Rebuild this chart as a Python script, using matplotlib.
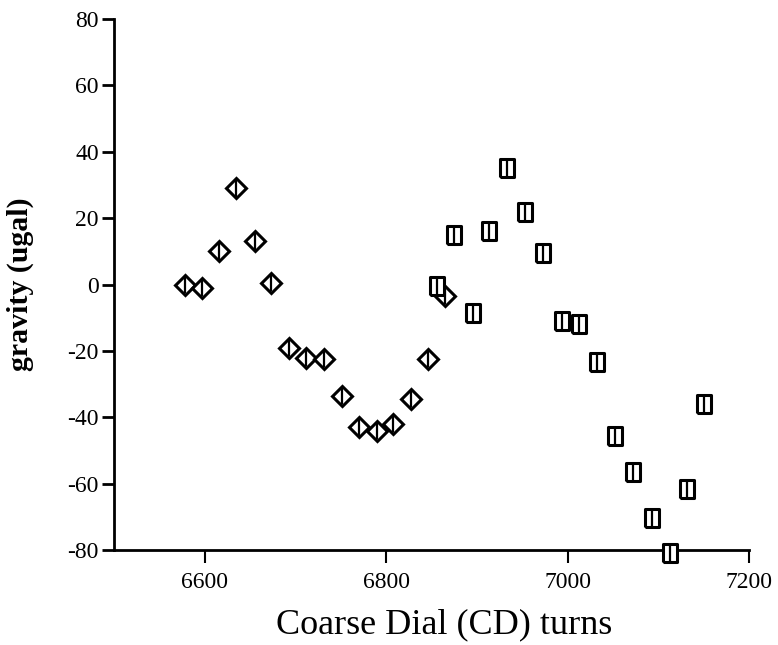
import numpy as np
from matplotlib import pyplot as plt

# first run (diamonds)
cd_a = [6578, 6597, 6616, 6635, 6655, 6673, 6693, 6712, 6731, 6751,
        6770, 6790, 6808, 6827, 6846, 6865]
g_a = [0, -1, 10, 29, 13, 0.5, -19, -22, -22.5, -33.5,
       -43, -44, -42, -34.5, -22.5, -3.5]
# second run (squares)
cd_b = [6856, 6875, 6896, 6913, 6933, 6953, 6973, 6994, 7013, 7033,
        7052, 7072, 7093, 7113, 7132, 7150]
g_b = [-0.5, 15, -8.5, 16, 35, 22, 9.5, -11, -12, -23.5,
       -45.5, -56.5, -70.5, -81, -61.5, -36]
err = 2.5

plt.rcParams['font.family'] = ['Liberation Serif', 'DejaVu Serif']
plt.rcParams['axes.unicode_minus'] = False

fig = plt.figure(figsize=(7.78, 6.45), dpi=100)
ax = fig.add_axes([0.1465, 0.1473, 0.8162, 0.8232])

box = [(-0.78, -1), (0.78, -1), (0.78, 1), (-0.78, 1), (-0.78, -1)]
ax.plot(cd_a, g_a, linestyle='none', marker='D', ms=10, mfc='white',
        mec='black', mew=2.2, zorder=3, clip_on=False)
ax.plot(cd_b, g_b, linestyle='none', marker=box, ms=12.5, mfc='white',
        mec='black', mew=2.2, zorder=3, clip_on=False)
# error bars go on top so they show through the hollow markers
for xs, ys in ((cd_a, g_a), (cd_b, g_b)):
    ax.errorbar(xs, ys, yerr=err, fmt='none', ecolor='black',
                elinewidth=1.6, capsize=0, zorder=4, clip_on=False)

ax.set_xlim(6500, 7200)
ax.set_ylim(-80, 80)
ax.set_xticks([6600, 6800, 7000, 7200])
ax.set_yticks(np.arange(-80, 81, 20))
ax.spines['top'].set_visible(False)
ax.spines['right'].set_visible(False)
ax.spines['left'].set_linewidth(2)
ax.spines['bottom'].set_linewidth(2)
ax.tick_params(axis='y', direction='out', length=9, width=2, labelsize=17, pad=2)
ax.tick_params(axis='x', direction='out', length=9, width=1.5, labelsize=17, pad=7)

ax.set_xlabel('Coarse Dial (CD) turns', fontsize=26)
ax.set_ylabel('gravity (ugal)', fontsize=21.5, fontweight='bold')
ax.xaxis.set_label_coords(0.52, -0.11)
ax.yaxis.set_label_coords(-0.126, 0.5)

plt.savefig('out.png', dpi=100)
